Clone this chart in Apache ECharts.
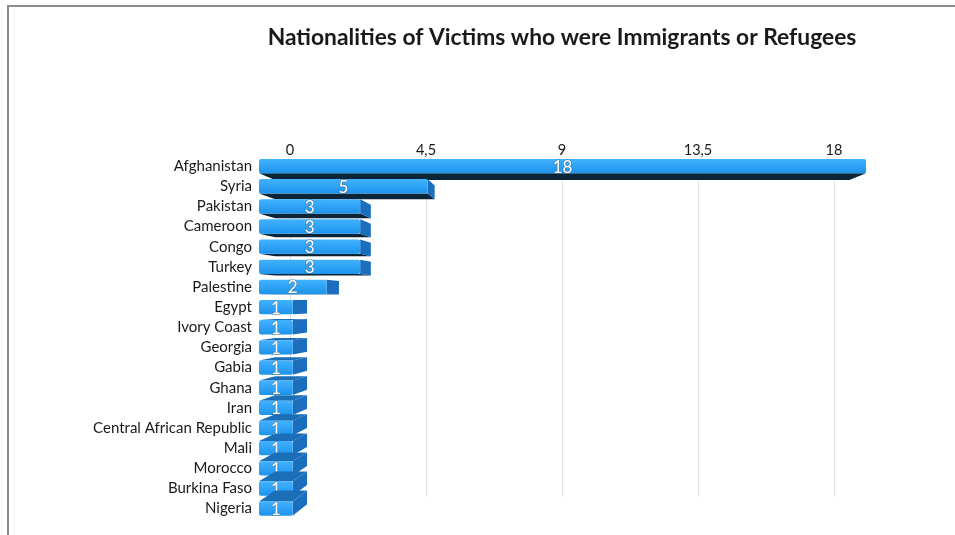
<!DOCTYPE html>
<html>
<head>
<meta charset="utf-8">
<script src="https://cdn.jsdelivr.net/npm/echarts@6/dist/echarts.min.js"></script>
<style>
  html, body { margin: 0; padding: 0; background: #fff; }
  #wrap { position: relative; width: 955px; height: 535px; overflow: hidden; }
  #chart { position: absolute; left: 0; top: 0; width: 955px; height: 535px; }
  #frame { position: absolute; left: 7px; top: 5px; width: 960px; height: 540px;
           border-top: 2px solid #8c8c8c; border-left: 2px solid #8c8c8c; pointer-events: none; }
</style>
</head>
<body>
<div id="wrap">
  <div id="chart"></div>
  <div id="frame"></div>
</div>
<script>
// Victims' nationalities and their counts
const countries = [
  'Afghanistan', 'Syria', 'Pakistan', 'Cameroon', 'Congo', 'Turkey', 'Palestine',
  'Egypt', 'Ivory Coast', 'Georgia', 'Gabia', 'Ghana', 'Iran',
  'Central African Republic', 'Mali', 'Morocco', 'Burkina Faso', 'Nigeria'
];
const victims = [18, 5, 3, 3, 3, 3, 2, 1, 1, 1, 1, 1, 1, 1, 1, 1, 1, 1];
const tickValues = [0, 4.5, 9, 13.5, 18];

const chart = echarts.init(document.getElementById('chart'), null, { renderer: 'canvas' });

// Perspective used for the extruded bars
const VX = 558, VY = 300, DEPTH = 0.946;
function back(x, y) { return [VX + DEPTH * (x - VX), VY + DEPTH * (y - VY)]; }

function renderBar(params, api) {
  const val = api.value(0);
  const idx = api.value(1);
  const p0 = api.coord([0, idx]);
  const p1 = api.coord([val, idx]);
  const h = api.size([0, 1])[1] * 0.71;
  const x0 = p0[0], x1 = p1[0];
  const y0 = p0[1] - h / 2, y1 = p0[1] + h / 2;
  const kids = [];
  if (VY > y1) {
    kids.push({ type: 'polygon', shape: { points: [[x0, y1], [x1, y1], back(x1, y1), back(x0, y1)] },
      style: { fill: '#0a2438' } });
  } else if (VY < y0) {
    kids.push({ type: 'polygon', shape: { points: [[x0, y0], [x1, y0], back(x1, y0), back(x0, y0)] },
      style: { fill: '#1b6fb8' } });
  }
  if (VX > x1) {
    kids.push({ type: 'polygon', shape: { points: [[x1, y0], back(x1, y0), back(x1, y1), [x1, y1]] },
      style: { fill: '#1a6ebd' } });
  }
  kids.push({
    type: 'rect',
    shape: { x: x0, y: y0, width: x1 - x0, height: h, r: 2 },
    style: {
      fill: new echarts.graphic.LinearGradient(0, 0, 0, 1, [
        { offset: 0, color: '#42b2ff' },
        { offset: 1, color: '#1c94ec' }
      ])
    }
  });
  kids.push({
    type: 'text',
    style: {
      text: String(val),
      x: (x0 + x1) / 2, y: (y0 + y1) / 2 + 1,
      align: 'center', verticalAlign: 'middle',
      fill: '#ffffff', font: '17px Lato, "DejaVu Sans", sans-serif',
      stroke: 'rgba(90,110,130,0.55)', lineWidth: 1.5
    }
  });
  return { type: 'group', children: kids };
}

chart.setOption({
  animation: false,
  backgroundColor: '#ffffff',
  title: {
    text: 'Nationalities of Victims who were Immigrants or Refugees',
    left: 557, top: 21, textAlign: 'center',
    textStyle: { fontFamily: 'Lato', fontWeight: 'bold', fontSize: 22.8, color: '#1a1a1a' }
  },
  grid: [
    { left: 290, right: 121, top: 160, bottom: 38 },
    { left: 259, right: 89, top: 156, height: 362.7 }
  ],
  xAxis: [
    {
      gridIndex: 0, type: 'value', position: 'top',
      min: tickValues[0], max: tickValues[tickValues.length - 1], interval: 4.5,
      axisLine: { show: false }, axisTick: { show: false },
      splitLine: { show: true, lineStyle: { color: '#e3e3e3', width: 1 } },
      axisLabel: {
        margin: 2, color: '#1a1a1a', fontFamily: 'Lato', fontSize: 14.5,
        formatter: v => String(v).replace('.', ',')
      }
    },
    { gridIndex: 1, type: 'value', min: 0, max: 18, show: false }
  ],
  yAxis: [
    { gridIndex: 0, type: 'value', show: false },
    {
      gridIndex: 1, type: 'category', inverse: true, data: countries,
      axisLine: { show: false }, axisTick: { show: false },
      axisLabel: { margin: 7, color: '#1a1a1a', fontFamily: 'Lato', fontSize: 15 }
    }
  ],
  series: [{
    type: 'custom',
    xAxisIndex: 1, yAxisIndex: 1,
    renderItem: renderBar,
    data: victims.map((v, i) => [v, i]),
    encode: { x: 0, y: 1 }
  }]
});
</script>
</body>
</html>
